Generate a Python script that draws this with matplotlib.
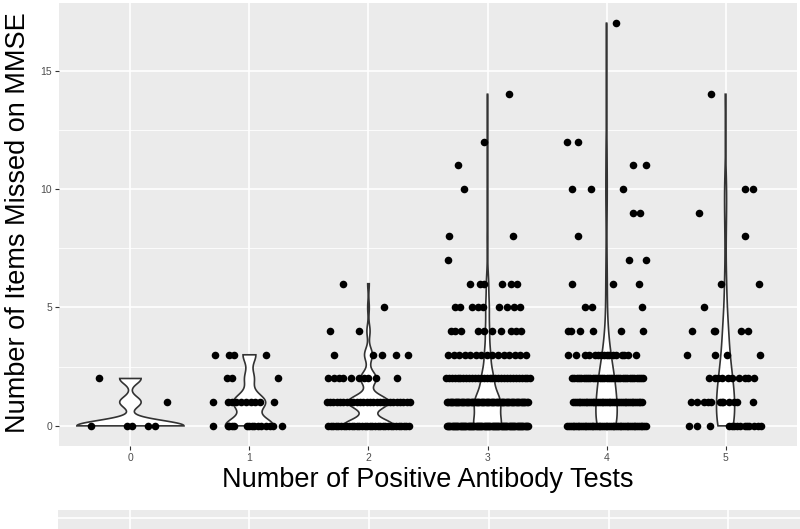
import numpy as np
import matplotlib
matplotlib.use("Agg")
import matplotlib.pyplot as plt

plt.rcParams['font.family'] = ['Liberation Sans', 'DejaVu Sans']

# ---------------- data ----------------
tests = [0, 1, 2, 3, 4, 5]                      # number of positive antibody tests
tick_labels = ["0", "1", "2", "3", "4", "5"]

# items missed on MMSE (values) and how many subjects had each value, per group
g0_values = [0, 1, 2]
g0_counts = [5, 1, 1]
g1_values = [0, 1, 2, 3]
g1_counts = [15, 10, 3, 4]
g2_values = [0, 1, 2, 3, 4, 5, 6]
g2_counts = [32, 26, 10, 5, 2, 1, 1]
g3_values = [0, 1, 2, 3, 4, 5, 6, 7, 8, 10, 11, 12, 14]
g3_counts = [72, 66, 30, 15, 10, 9, 6, 1, 2, 1, 1, 1, 1]
g4_values = [0, 1, 2, 3, 4, 5, 6, 7, 8, 9, 10, 11, 12, 17]
g4_counts = [46, 40, 32, 16, 6, 3, 3, 2, 1, 2, 3, 2, 2, 1]
g5_values = [0, 1, 2, 3, 4, 5, 6, 8, 9, 10, 14]
g5_counts = [14, 12, 10, 4, 5, 1, 2, 1, 1, 2, 1]

x_label = "Number of Positive Antibody Tests"
y_label = "Number of Items Missed on MMSE"

# ---------------- jitter (horizontal offsets of the points, category units) ----------------
# a list = offsets of each point; a tuple = (left, right) span of a solid row of points
j0 = {0: [-0.33, -0.03, 0.01, 0.15, 0.21], 1: [0.31], 2: [-0.26]}
j1 = {0: [-0.31, -0.18, -0.17, -0.15, -0.13, -0.02, 0.0, 0.02, 0.04, 0.07, 0.10, 0.14, 0.17,
          0.20, 0.27],
      1: [-0.31, -0.18, -0.15, -0.11, -0.07, -0.03, 0.01, 0.05, 0.09, 0.21],
      2: [-0.19, -0.15, 0.24],
      3: [-0.29, -0.17, -0.13, 0.14]}
j2 = {0: (-0.34, 0.34), 1: (-0.35, 0.35),
      2: [-0.34, -0.29, -0.25, -0.21, -0.15, -0.08, -0.04, 0.0, 0.06, 0.24],
      3: [-0.29, 0.04, 0.11, 0.23, 0.33], 4: [-0.32, -0.08], 5: [0.13], 6: [-0.21]}
j3 = {0: (-0.34, 0.34), 1: (-0.34, 0.34), 2: (-0.35, 0.36), 3: (-0.33, 0.32),
      4: [-0.31, -0.27, -0.22, -0.08, -0.03, 0.04, 0.11, 0.20, 0.24, 0.28],
      5: [-0.27, -0.23, -0.13, -0.08, -0.04, 0.10, 0.16, 0.22, 0.27],
      6: [-0.15, -0.06, -0.03, 0.12, 0.20, 0.25],
      7: [-0.33], 8: [-0.32, 0.21], 10: [-0.20], 11: [-0.25], 12: [-0.03], 14: [0.18]}
j4 = {0: (-0.33, 0.33), 1: (-0.28, 0.30), 2: (-0.29, 0.31),
      3: [-0.32, -0.26, -0.18, -0.15, -0.10, -0.07, -0.05, -0.02, 0.0, 0.02, 0.05, 0.08,
          0.13, 0.15, 0.18, 0.25],
      4: [-0.32, -0.30, -0.22, -0.11, 0.12, 0.31], 5: [-0.18, -0.12, 0.30],
      6: [-0.29, 0.05, 0.27], 7: [0.19, 0.33], 8: [-0.24], 9: [0.22, 0.28],
      10: [-0.29, -0.13, 0.14], 11: [0.22, 0.33], 12: [-0.33, -0.24], 17: [0.08]}
j5 = {0: [-0.31, -0.24, -0.13, 0.03, 0.05, 0.07, 0.10, 0.12, 0.16, 0.18, 0.20, 0.24, 0.27, 0.30],
      1: [-0.29, -0.24, -0.18, -0.15, -0.12, -0.05, -0.03, -0.02, 0.03, 0.07, 0.10, 0.23],
      2: [-0.14, -0.09, -0.06, -0.03, 0.02, 0.05, 0.11, 0.16, 0.19, 0.24],
      3: [-0.32, -0.09, 0.01, 0.29], 4: [-0.28, -0.10, -0.09, 0.13, 0.19], 5: [-0.18],
      6: [-0.04, 0.28], 8: [0.16], 9: [-0.22], 10: [0.16, 0.23], 14: [-0.12]}

groups = [(g0_values, g0_counts, j0), (g1_values, g1_counts, j1), (g2_values, g2_counts, j2),
          (g3_values, g3_counts, j3), (g4_values, g4_counts, j4), (g5_values, g5_counts, j5)]

W, H = 800, 529
fig = plt.figure(figsize=(W / 100, H / 100), dpi=100)
ax = fig.add_axes([59 / W, 1 - 446 / H, (797 - 59) / W, (446 - 3) / H])
ax.set_facecolor('#EBEBEB')


def nrd0(v):
    v = np.asarray(v, float)
    sd = v.std(ddof=1)
    q75, q25 = np.percentile(v, [75, 25])
    lo = min(sd, (q75 - q25) / 1.34)
    if lo == 0:
        lo = sd if sd > 0 else 1.0
    return 0.9 * lo * len(v) ** -0.2


# kernel densities as in ggplot2 stat_ydensity (trim=TRUE, scale="area")
dens = []
for vals_, cnts_, _ in groups:
    vals = np.repeat(np.asarray(vals_, float), cnts_)
    bw = nrd0(vals)
    yy = np.linspace(vals.min(), vals.max(), 512)
    d = np.exp(-0.5 * ((yy[:, None] - vals[None, :]) / bw) ** 2).sum(1) / (len(vals) * bw * np.sqrt(2 * np.pi))
    dens.append((yy, d))
dmax = max(d.max() for _, d in dens)

for xc, (yy, d) in zip(tests, dens):
    hw = 0.45 * d / dmax
    px = np.concatenate([xc - hw, (xc + hw)[::-1]])
    py = np.concatenate([yy, yy[::-1]])
    ax.fill(px, py, facecolor='white', edgecolor='#333333', linewidth=1.2, zorder=2)

for xc, (vals_, cnts_, jit) in zip(tests, groups):
    xs, ys = [], []
    for val, n in zip(vals_, cnts_):
        j = jit[val]
        offs = np.linspace(j[0], j[1], n) if isinstance(j, tuple) else np.asarray(j[:n])
        xs += list(xc + offs)
        ys += [val] * len(offs)
    ax.scatter(xs, ys, s=30, color='black', linewidths=0, zorder=3)

ax.set_xlim(-0.6, 5.6)
ax.set_ylim(-0.85, 17.85)
ax.set_xticks(tests)
ax.set_xticklabels(tick_labels)
ax.set_yticks([0, 5, 10, 15])
ax.set_yticks([2.5, 7.5, 12.5], minor=True)
ax.set_axisbelow(True)
ax.grid(True, which='major', color='white', linewidth=1.2)
ax.grid(True, which='minor', axis='y', color='white', linewidth=0.6)
for s in ax.spines.values():
    s.set_visible(False)
ax.tick_params(which='major', length=3, width=0.8, color='#333333', labelcolor='#4D4D4D',
               labelsize=7.5, pad=2)
ax.tick_params(which='minor', length=0)
ax.set_xlabel(x_label, fontsize=19.5, va='center')
ax.set_ylabel(y_label, fontsize=19.5, va='center')
ax.xaxis.set_label_coords(0.5, -34 / 443)
ax.yaxis.set_label_coords(-41 / 738, 0.505)

# top of the next panel (cut off by the image edge)
ax2 = fig.add_axes([58 / W, 1 - 510 / H - 0.3, (800 - 58) / W, 0.3])
ax2.set_facecolor('#EBEBEB')
ax2.set_xlim(-0.6, 5.6)
ax2.set_ylim(0, 1)
ax2.set_xticks(tests)
ax2.set_yticks([1 - 8 / (0.3 * H)])
ax2.grid(True, color='white', linewidth=1.2)
ax2.tick_params(length=0, labelleft=False, labelbottom=False)
for s in ax2.spines.values():
    s.set_visible(False)

fig.savefig('out.png', dpi=100)
